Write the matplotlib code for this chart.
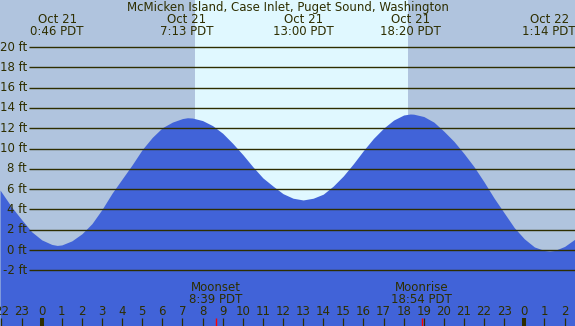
import matplotlib
matplotlib.use("Agg")
import matplotlib.pyplot as plt

# ---------------- data ----------------
title = "McMicken Island, Case Inlet, Puget Sound, Washington"

# tide height (ft), hours relative to Oct 21 00:00 PDT
tide_hours = [-2.07, -2.0, -1.5, -1.0, -0.5, 0.0, 0.5, 0.77, 1.0, 1.5, 2.0, 2.5,
              3.0, 3.5, 4.0, 4.5, 5.0, 5.5, 6.0, 6.5, 7.0, 7.25, 7.5, 8.0, 8.5,
              9.0, 9.5, 10.0, 10.5, 11.0, 11.5, 12.0, 12.5, 13.0, 13.5, 14.0,
              14.5, 15.0, 15.5, 16.0, 16.5, 17.0, 17.5, 18.0, 18.33, 18.5, 19.0,
              19.5, 20.0, 20.5, 21.0, 21.5, 22.0, 22.5, 23.0, 23.5, 24.0, 24.5,
              25.0, 25.25, 25.5, 26.0, 26.52]
tide_feet = [5.9, 5.7, 4.25, 3.0, 1.8, 1.0, 0.55, 0.45, 0.5, 0.9, 1.6, 2.6,
             4.0, 5.6, 7.0, 8.4, 9.9, 11.1, 12.05, 12.6, 12.95, 13.03, 13.0, 12.75, 12.25,
             11.5, 10.5, 9.4, 8.2, 7.1, 6.3, 5.55, 5.1, 4.93, 5.1, 5.5,
             6.3, 7.3, 8.5, 9.8, 11.0, 12.0, 12.8, 13.3, 13.4, 13.38, 13.15,
             12.6, 11.7, 10.7, 9.5, 8.2, 6.7, 5.1, 3.65, 2.2, 1.1, 0.3,
             -0.05, -0.1, -0.05, 0.35, 1.08]

# high / low tide labels at the top
extreme_dates = ["Oct 21", "Oct 21", "Oct 21", "Oct 21", "Oct 22"]
extreme_times = ["0:46", "7:13", "13:00", "18:20", "1:14"]
extreme_day_offset = [0, 0, 0, 0, 24]

# moon events
moon_names = ["Moonset", "Moonrise"]
moon_times = ["8:39", "18:54"]

# daylight period (hours)
sunrise_h, sunset_h = 7.62, 18.23

y_levels = [-2, 0, 2, 4, 6, 8, 10, 12, 14, 16, 18, 20]
hour_ticks = list(range(-2, 27))
midnights = [0, 24]

# ---------------- styling ----------------
night_col = "#b0c4de"
day_col = "#e0f8ff"
water_col = "#4163d8"
ink = "#2e2e00"

W, H = 575, 326
PX_PER_H = 20.11
X0_PX = 41.7          # pixel of hour 0
PX_PER_FT = 10.15
Y0_PX = 250.0         # pixel of 0 ft


def hx(px):
    return (px - X0_PX) / PX_PER_H


def fy(py):
    return (Y0_PX - py) / PX_PER_FT


def to_h(s):
    a, b = s.split(":")
    return int(a) + int(b) / 60.0


fig = plt.figure(figsize=(W / 100, H / 100), dpi=100)
fig.patch.set_facecolor(night_col)
ax = fig.add_axes([0, 0, 1, 1])
ax.set_xlim(hx(0), hx(W))
ax.set_ylim(fy(H), fy(0))
ax.axis("off")

plt.rcParams["font.family"] = ["DejaVu Sans"]
fs = 8.5

# daylight
ax.axvspan(sunrise_h, sunset_h, color=day_col, zorder=1, lw=0)

# water
ax.fill_between(tide_hours, tide_feet, fy(H) - 1, color=water_col, lw=0, zorder=2)

# grid lines and labels
ax.hlines(y_levels, hx(29), hx(W) + 1, color=ink, lw=1.0, zorder=3)
for v in y_levels:
    ax.text(hx(27), v, f"{v} ft", ha="right", va="center", fontsize=fs,
            color=ink, zorder=4)

# title
ax.text(0.5, 1 - 7.0 / H, title, transform=ax.transAxes, ha="center",
        va="center", fontsize=fs, color=ink, zorder=5)

# extremes labels
for d, t, off in zip(extreme_dates, extreme_times, extreme_day_offset):
    h = to_h(t) + off
    ax.text(h, fy(19.3), d, ha="center", va="center", fontsize=fs, color=ink, zorder=5)
    ax.text(h, fy(31.7), f"{t} PDT", ha="center", va="center", fontsize=fs,
            color=ink, zorder=5)

# hour ticks
ax.vlines([h for h in hour_ticks if h not in midnights], fy(318), fy(H) - 1,
          color=ink, lw=0.9, zorder=4)
ax.vlines(midnights, fy(318), fy(H) - 1, color=ink, lw=2.9, zorder=4)
for h in hour_ticks:
    ax.text(h, fy(311.7), str(h % 24), ha="center", va="center", fontsize=fs,
            color=ink, zorder=5)

# moon events
for n, t in zip(moon_names, moon_times):
    h = to_h(t)
    ax.text(h, fy(287.5), n, ha="center", va="center", fontsize=fs, color=ink, zorder=5)
    ax.text(h, fy(299.5), f"{t} PDT", ha="center", va="center", fontsize=fs,
            color=ink, zorder=5)
    ax.vlines([h], fy(318), fy(H) - 1, color="#ff0000", lw=1.0, zorder=4)

fig.savefig("out.png", dpi=100, facecolor=night_col)
